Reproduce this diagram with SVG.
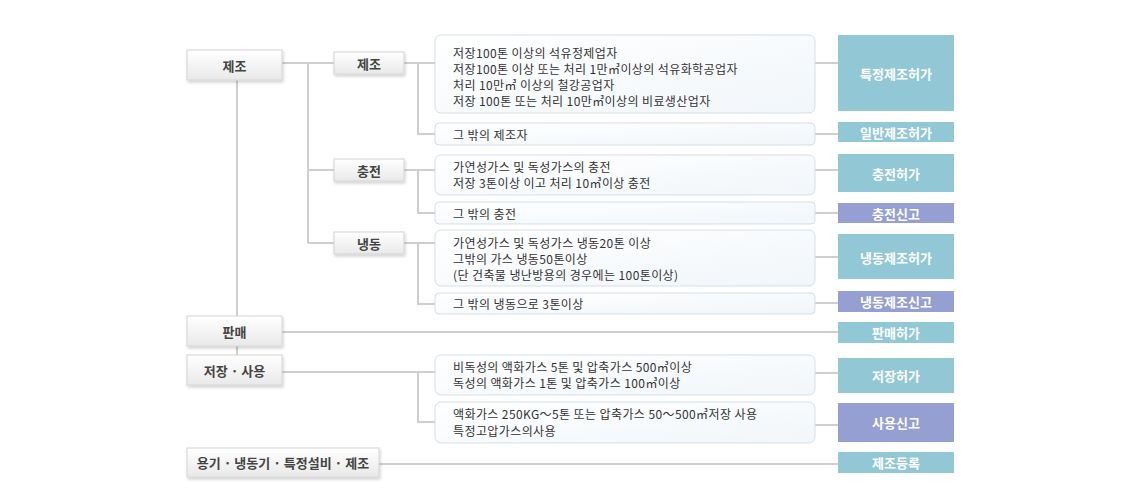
<svg xmlns="http://www.w3.org/2000/svg" width="1129" height="500" viewBox="0 0 1129 500">
<defs>
<linearGradient id="gBtn" x1="0" y1="0" x2="0" y2="1">
<stop offset="0" stop-color="#ffffff"/>
<stop offset="1" stop-color="#e9e9e9"/>
</linearGradient>
<linearGradient id="gBox" x1="0" y1="0" x2="1" y2="1">
<stop offset="0" stop-color="#ffffff"/>
<stop offset="1" stop-color="#f1f6fa"/>
</linearGradient>
<filter id="sh" x="-10%" y="-20%" width="120%" height="160%">
<feDropShadow dx="1" dy="2" stdDeviation="1.5" flood-color="#000" flood-opacity="0.18"/>
</filter>
<style>
.btn{fill:url(#gBtn);stroke:#d4d4d4;stroke-width:1;filter:url(#sh)}
.box{fill:url(#gBox);stroke:#d3dfe8;stroke-width:1}
.teal{fill:#92c8d5}
.purp{fill:#959fd1}
.lbl{font-family:"Noto Sans CJK KR","Liberation Sans",sans-serif;font-size:13px;font-weight:bold;fill:#444;text-anchor:middle;dominant-baseline:central}
.txt{font-family:"Noto Sans CJK KR","Liberation Sans",sans-serif;font-size:12px;letter-spacing:0.4px;fill:#333;dominant-baseline:central}
.wt{font-family:"Noto Sans CJK KR","Liberation Sans",sans-serif;font-size:13px;font-weight:bold;fill:#ffffff;text-anchor:middle;dominant-baseline:central}
.ln{fill:none;stroke:#cfcfcf;stroke-width:2}
</style>
</defs>
<rect width="1129" height="500" fill="#ffffff"/>

<g id="connectors">
<path class="ln" d="M237 80 V355"/>
<path class="ln" d="M282 63 H334 M308 63 V243 M308 170 H334 M308 243 H334"/>
<path class="ln" d="M404 63 H435 M418 63 V134 H435"/>
<path class="ln" d="M404 170 H435 M418 170 V213 H435"/>
<path class="ln" d="M404 243 H435 M418 243 V304 H435"/>
<path class="ln" d="M282 372 H435 M418 372 V422 H435"/>
<path class="ln" d="M282 332 H838"/>
<path class="ln" d="M379 464 H838"/>
<path class="ln" d="M815 63 H838 M815 134 H838 M815 170 H838 M815 213 H838 M815 257 H838 M815 303 H838 M815 373 H838 M815 425 H838"/>
</g>

<g id="n-jejo"><rect class="btn" x="187" y="50" width="95" height="30"/><text class="lbl" x="234.5" y="65">제조</text></g>
<g id="n-panmae"><rect class="btn" x="187" y="316" width="95" height="30"/><text class="lbl" x="234.5" y="331">판매</text></g>
<g id="n-jeojang"><rect class="btn" x="187" y="355" width="95" height="30"/><text class="lbl" x="234.5" y="370">저장 · 사용</text></g>
<g id="n-yonggi"><rect class="btn" x="187" y="448" width="192" height="29"/><text class="lbl" x="283" y="462.5">용기 · 냉동기 · 특정설비 · 제조</text></g>

<g id="n-jejo2"><rect class="btn" x="334" y="52" width="70" height="22"/><text class="lbl" x="369" y="63">제조</text></g>
<g id="n-chungjeon"><rect class="btn" x="334" y="159" width="70" height="22"/><text class="lbl" x="369" y="170">충전</text></g>
<g id="n-naengdong"><rect class="btn" x="334" y="232" width="70" height="22"/><text class="lbl" x="369" y="243">냉동</text></g>

<g id="c1"><rect class="box" x="435" y="35" width="380" height="78" rx="6"/>
<text class="txt" x="453" y="52">저장100톤 이상의 석유정제업자</text>
<text class="txt" x="453" y="68">저장100톤 이상 또는 처리 1만㎥이상의 석유화학공업자</text>
<text class="txt" x="453" y="84">처리 10만㎥ 이상의 철강공업자</text>
<text class="txt" x="453" y="100">저장 100톤 또는 처리 10만㎥이상의 비료생산업자</text></g>
<g id="c2"><rect class="box" x="435" y="123" width="380" height="22" rx="4"/><text class="txt" x="453" y="134">그 밖의 제조자</text></g>
<g id="c3"><rect class="box" x="435" y="155" width="380" height="40" rx="6"/>
<text class="txt" x="453" y="166">가연성가스 및 독성가스의 충전</text>
<text class="txt" x="453" y="182">저장 3톤이상 이고 처리 10㎥이상 충전</text></g>
<g id="c4"><rect class="box" x="435" y="202" width="380" height="22" rx="4"/><text class="txt" x="453" y="213">그 밖의 충전</text></g>
<g id="c5"><rect class="box" x="435" y="230" width="380" height="56" rx="6"/>
<text class="txt" x="453" y="242">가연성가스 및 독성가스 냉동20톤 이상</text>
<text class="txt" x="453" y="258">그밖의 가스 냉동50톤이상</text>
<text class="txt" x="453" y="274">(단 건축물 냉난방용의 경우에는 100톤이상)</text></g>
<g id="c6"><rect class="box" x="435" y="293" width="380" height="21" rx="4"/><text class="txt" x="453" y="303.5">그 밖의 냉동으로 3톤이상</text></g>
<g id="c7"><rect class="box" x="435" y="355" width="380" height="40" rx="6"/>
<text class="txt" x="453" y="366">비독성의 액화가스 5톤 및 압축가스 500㎥이상</text>
<text class="txt" x="453" y="382">독성의 액화가스 1톤 및 압축가스 100㎥이상</text></g>
<g id="c8"><rect class="box" x="435" y="402" width="380" height="41" rx="6"/>
<text class="txt" x="453" y="413">액화가스 250KG～5톤 또는 압축가스 50～500㎥저장 사용</text>
<text class="txt" x="453" y="430">특정고압가스의사용</text></g>

<g id="r1"><rect class="teal" x="838" y="35" width="116" height="76"/><text class="wt" x="896" y="73">특정제조허가</text></g>
<g id="r2"><rect class="teal" x="838" y="122" width="116" height="20"/><text class="wt" x="896" y="132">일반제조허가</text></g>
<g id="r3"><rect class="teal" x="838" y="154" width="116" height="38"/><text class="wt" x="896" y="173">충전허가</text></g>
<g id="r4"><rect class="purp" x="838" y="203" width="116" height="20"/><text class="wt" x="896" y="213">충전신고</text></g>
<g id="r5"><rect class="teal" x="838" y="234" width="116" height="45"/><text class="wt" x="896" y="257">냉동제조허가</text></g>
<g id="r6"><rect class="purp" x="838" y="291" width="116" height="21"/><text class="wt" x="896" y="301.5">냉동제조신고</text></g>
<g id="r7"><rect class="teal" x="838" y="322" width="116" height="21"/><text class="wt" x="896" y="332.5">판매허가</text></g>
<g id="r8"><rect class="teal" x="838" y="358" width="116" height="35"/><text class="wt" x="896" y="375.5">저장허가</text></g>
<g id="r9"><rect class="purp" x="838" y="403" width="116" height="39"/><text class="wt" x="896" y="422.5">사용신고</text></g>
<g id="r10"><rect class="teal" x="838" y="452" width="116" height="21"/><text class="wt" x="896" y="462.5">제조등록</text></g>
</svg>
